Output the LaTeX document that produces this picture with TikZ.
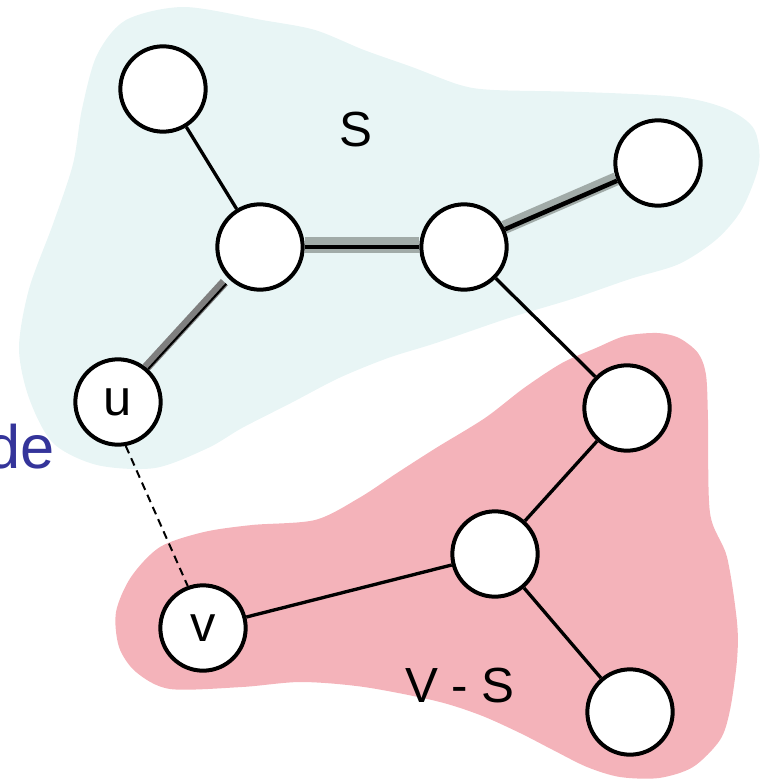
\documentclass[tikz,border=0pt]{standalone}
\usepackage{fontspec}
\setmainfont{Liberation Sans}
\usetikzlibrary{backgrounds}
\definecolor{cielo}{HTML}{E8F5F5}
\definecolor{rosa}{HTML}{F4B3BA}
\definecolor{grisclaro}{HTML}{A1ABA8}
\definecolor{grisosc}{HTML}{7F7F7F}
\definecolor{tinta}{HTML}{34349A}

\begin{document}
\begin{tikzpicture}[x=0.75pt, y=-0.75pt,
      v/.style={circle, draw, fill=white, line width=3pt, minimum size=64pt, inner sep=0pt,
                font=\fontsize{38}{40}\selectfont},
      arista/.style={line width=2.5pt},
      banda/.style={line width=#1, grisclaro},
      rotulo/.style={font=\fontsize{37}{40}\selectfont}]
    \useasboundingbox (0,0) rectangle (760,781);
    % vertices
    \node[v] (tl) at (163,89) {};
    \node[v] (ml) at (260,247) {};
    \node[v] (mr) at (464,247) {};
    \node[v] (tr) at (658,163) {};
    \node[v] (u) at (118,402) {u};
    \node[v] (r) at (627,408) {};
    \node[v] (c) at (495,554) {};
    \node[v] (w) at (203,628) {v};
    \node[v] (br) at (630,712) {};
    \node[rotulo] (s) at (356,130) {S};
    \node[rotulo] (vs) at (460,686) {V - S};
    \node[anchor=base east, inner sep=0pt, text=tinta, font=\fontsize{46}{48}\selectfont] (de) at (55,468) {de};
    \begin{pgfonlayer}{background}
      % regiones S y V - S
      \fill[cielo] plot[smooth cycle] coordinates {(184,7) (262,20) (315,30) (364,50) (412,67)
        (460,85) (494,90) (582,92) (679,97) (727,109) (754,129) (759,164) (742,209) (717,239)
        (679,264) (630,279) (572,299) (509,318) (436,343) (388,358) (339,378) (291,403)
        (242,428) (208,448) (155,468) (97,465) (53,443) (29,398) (19,348) (29,289) (53,224)
        (73,164) (82,109) (97,55) (126,20)};
      \fill[rosa] plot[smooth cycle] coordinates {(625,336) (657,333) (679,338) (698,353)
        (706,375) (708,420) (710,513) (727,557) (737,622) (737,660) (730,710) (720,740)
        (693,767) (659,778) (620,777) (587,767) (553,750) (520,733) (480,715) (436,701)
        (364,687) (301,682) (242,687) (170,689) (136,672) (119,647) (116,612) (131,577)
        (160,547) (204,532) (252,525) (315,520) (359,498) (397,473) (436,448) (485,418)
        (524,388) (562,363) (596,348)};
      % aristas del arbol con sombra
      \draw[banda=12pt, transform canvas={yshift=1.5pt}] (ml) -- (mr);
      \draw[banda=10pt, transform canvas={xshift=-0.6pt, yshift=1.4pt}] (mr) -- (tr);
      \draw[banda=7pt, grisosc, shorten <=4pt, transform canvas={xshift=-1.4pt, yshift=1.3pt}] (ml) -- (u);
      \draw[arista, line width=3.4pt] (ml) -- (mr);
      \draw[arista, line width=3.4pt] (mr) -- (tr);
      \draw[line width=1.5pt, shorten <=4pt] (ml) -- (u);
      \draw[arista] (tl) -- (ml);
      \draw[arista] (mr) -- (r);
      \draw[arista] (r) -- (c);
      \draw[arista] (c) -- (w);
      \draw[arista] (c) -- (br);
      \draw[line width=1.5pt, dash pattern=on 6pt off 4pt] (u.-80) -- (w.110);
    \end{pgfonlayer}
\end{tikzpicture}
\end{document}
